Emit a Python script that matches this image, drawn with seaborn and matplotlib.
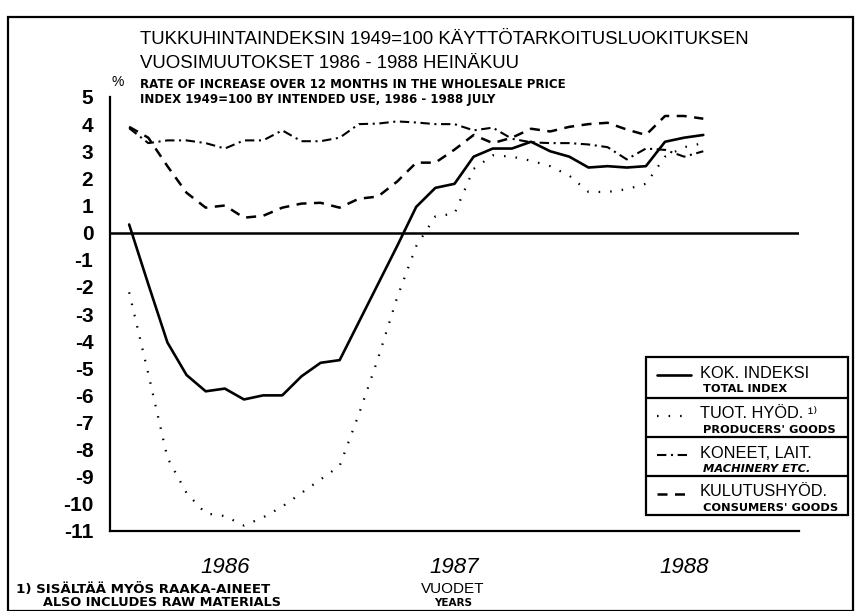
import matplotlib
matplotlib.use("Agg")
import matplotlib.pyplot as plt
import matplotlib.transforms as mtransforms
import seaborn as sns
import pandas as pd
from matplotlib.lines import Line2D
from matplotlib.patches import Rectangle

# monthly values, Jan 1986 (1) .. Jul 1988 (31)
months = list(range(1, 32))
total_index = [0.3, -1.9, -4.05, -5.25, -5.85, -5.75, -6.15, -6.0, -6.0, -5.3,
               -4.8, -4.7, -3.3, -1.9, -0.5, 0.95, 1.65, 1.8, 2.8, 3.1,
               3.1, 3.35, 3.0, 2.8, 2.4, 2.45, 2.4, 2.45, 3.35, 3.5, 3.6]
producers = [-2.2, -5.2, -8.3, -9.6, -10.35, -10.45, -10.8, -10.5, -10.1, -9.6,
             -9.1, -8.6, -6.7, -4.65, -2.4, -0.5, 0.6, 0.7, 2.35, 2.85,
             2.8, 2.65, 2.45, 2.1, 1.5, 1.5, 1.6, 1.8, 2.8, 3.15, 3.3]
machinery = [3.85, 3.3, 3.4, 3.4, 3.3, 3.1, 3.4, 3.4, 3.77, 3.37,
             3.37, 3.5, 4.0, 4.02, 4.1, 4.06, 4.0, 4.0, 3.77, 3.87,
             3.46, 3.33, 3.3, 3.3, 3.25, 3.15, 2.7, 3.1, 3.05, 2.8, 3.0]
consumers = [3.9, 3.5, 2.45, 1.47, 0.92, 1.0, 0.55, 0.62, 0.92, 1.07,
             1.1, 0.92, 1.25, 1.33, 1.88, 2.58, 2.58, 3.06, 3.6, 3.3,
             3.5, 3.83, 3.73, 3.9, 4.0, 4.05, 3.8, 3.6, 4.3, 4.3, 4.2]

years = ["1986", "1987", "1988"]
year_centers = [6, 18, 30]
y_ticks = list(range(-11, 6))

df = pd.DataFrame({"month": months, "total": total_index, "producers": producers,
                   "machinery": machinery, "consumers": consumers})

sns.set_style("white")
SANS = ["Liberation Sans", "DejaVu Sans"]
WIDE = ["DejaVu Sans"]
plt.rcParams["font.family"] = SANS
plt.rcParams["text.color"] = "black"
plt.rcParams["xtick.color"] = "black"
plt.rcParams["ytick.color"] = "black"

W, H = 861, 611
fig = plt.figure(figsize=(W / 100, H / 100), dpi=100)


def fx(px):
    return px / W


def fy(py):
    return 1 - py / H


ax = fig.add_axes([fx(110), fy(531), fx(799) - fx(110), fy(97) - fy(531)])

styles = {
    "total": dict(linestyle="-", linewidth=1.9),
    "producers": dict(linestyle=(0, (0.7, 4.5)), linewidth=1.6),
    "machinery": dict(linestyle=(0, (4.5, 2.2, 1.0, 2.2)), linewidth=1.5),
    "consumers": dict(linestyle=(0, (4, 3)), linewidth=1.8),
}
for col, st in styles.items():
    sns.lineplot(data=df, x="month", y=col, ax=ax, color="black", **st)

ax.axhline(0, color="black", linewidth=1.8)
ax.set_xlim(0, 36)
ax.set_ylim(-11, 5)
ax.set_xlabel("")
ax.set_ylabel("")
for s in ["top", "right"]:
    ax.spines[s].set_visible(False)
for s in ["left", "bottom"]:
    ax.spines[s].set_linewidth(1.6)
    ax.spines[s].set_color("black")

ax.set_yticks(y_ticks)
ax.set_yticklabels([str(v) for v in y_ticks])
ax.tick_params(axis="y", direction="out", length=7, width=1.5, labelsize=15,
               pad=5, labelcolor="black")
for lab in ax.get_yticklabels():
    lab.set_fontweight("bold")

ax.set_xticks([0, 12, 24, 36])
ax.set_xticks(range(0, 37), minor=True)
ax.set_xticklabels([])
ax.tick_params(axis="x", which="major", direction="out", length=11, width=1.5)
ax.tick_params(axis="x", which="minor", direction="out", length=6, width=1.5)

trans = mtransforms.blended_transform_factory(ax.transData, ax.transAxes)
for yr, c in zip(years, year_centers):
    ax.text(c, -0.085, yr, transform=trans, ha="center", va="center",
            fontsize=16, style="italic", color="black")

# titles
fig.text(fx(140), fy(40), "TUKKUHINTAINDEKSIN 1949=100 KÄYTTÖTARKOITUSLUOKITUKSEN",
         fontsize=13.4, va="center", ha="left")
fig.text(fx(140), fy(63), "VUOSIMUUTOKSET 1986 - 1988 HEINÄKUU",
         fontsize=13.4, va="center", ha="left")
fig.text(fx(140), fy(85), "RATE OF INCREASE OVER 12 MONTHS IN THE WHOLESALE PRICE",
         fontsize=8.5, fontweight="bold", va="center", ha="left", family=WIDE)
fig.text(fx(140), fy(99), "INDEX 1949=100 BY INTENDED USE, 1986 - 1988 JULY",
         fontsize=8.5, fontweight="bold", va="center", ha="left", family=WIDE)
fig.text(fx(111), fy(82), "%", fontsize=10, va="center", ha="left")

# bottom texts
fig.text(fx(453), fy(589), "VUODET", fontsize=11, ha="center", va="center")
fig.text(fx(453), fy(603), "YEARS", fontsize=7.5, fontweight="bold", ha="center",
         va="center", family=WIDE)
fig.text(fx(16), fy(589), "1) SISÄLTÄÄ MYÖS RAAKA-AINEET", fontsize=9.6,
         fontweight="bold", ha="left", va="center", family=WIDE)
fig.text(fx(43), fy(603), "ALSO INCLUDES RAW MATERIALS", fontsize=9.3,
         fontweight="bold", ha="left", va="center", family=WIDE)

# outer frame
fig.patches.append(Rectangle((fx(8), fy(611)), fx(853) - fx(8), fy(17) - fy(611),
                             transform=fig.transFigure, fill=False,
                             edgecolor="black", linewidth=1.6))

# legend drawn as boxed cells
lx0, lx1 = 646, 848
rows = [357, 398, 437, 476, 515]
entries = [
    ("total", "KOK. INDEKSI", "TOTAL INDEX", "normal"),
    ("producers", "TUOT. HYÖD. ¹⁾", "PRODUCERS' GOODS", "normal"),
    ("machinery", "KONEET, LAIT.", "MACHINERY ETC.", "italic"),
    ("consumers", "KULUTUSHYÖD.", "CONSUMERS' GOODS", "normal"),
]
fig.patches.append(Rectangle((fx(lx0), fy(rows[-1])), fx(lx1) - fx(lx0),
                             fy(rows[0]) - fy(rows[-1]), transform=fig.transFigure,
                             fill=True, facecolor="white", edgecolor="black",
                             linewidth=1.6, zorder=5))
for i, (key, fi, en, en_style) in enumerate(entries):
    top, bot = rows[i], rows[i + 1]
    if i > 0:
        fig.lines.append(Line2D([fx(lx0), fx(lx1)], [fy(top), fy(top)],
                                transform=fig.transFigure, color="black",
                                linewidth=1.6, zorder=6))
    ly = top + 18
    fig.lines.append(Line2D([fx(657), fx(691)], [fy(ly), fy(ly)],
                            transform=fig.transFigure, color="black", zorder=6,
                            **styles[key]))
    fig.text(fx(700), fy(top + 16), fi, fontsize=11.8, ha="left", va="center", zorder=7)
    fig.text(fx(703), fy(top + 32), en, fontsize=8.2, fontweight="bold",
             style=en_style, ha="left", va="center", family=WIDE, zorder=7)

fig.savefig("out.png", dpi=100)
